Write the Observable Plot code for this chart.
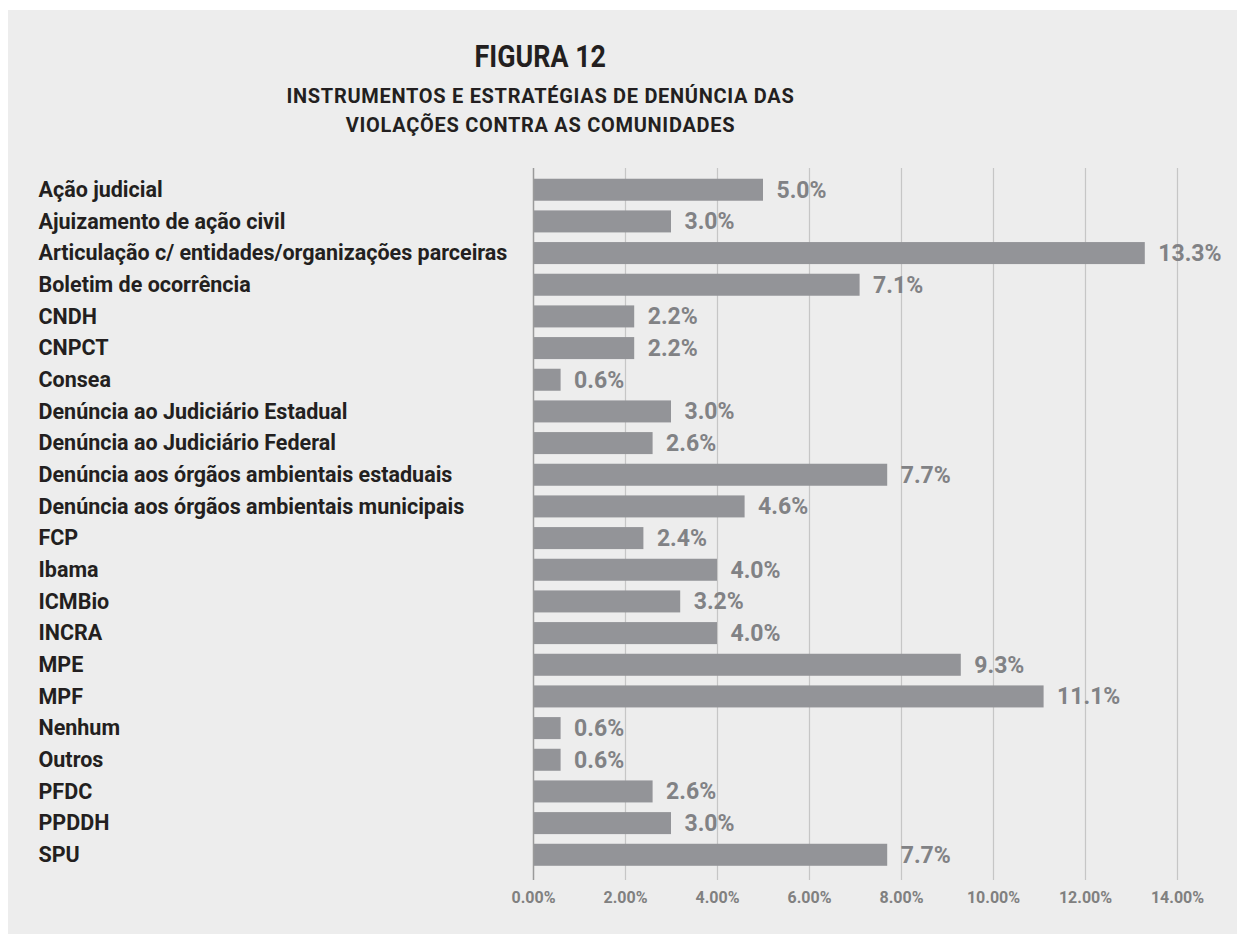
<!DOCTYPE html>
<html>
<head>
<meta charset="utf-8">
<script src="https://cdn.jsdelivr.net/npm/d3@7"></script>
<script src="https://cdn.jsdelivr.net/npm/@observablehq/plot@0.6"></script>
<style>
  html, body { margin: 0; padding: 0; background: #ffffff; }
  #panel {
    position: absolute; left: 8px; top: 10px; width: 1229px; height: 924px;
    background: #ededed; overflow: hidden;
  }
  #title {
    position: absolute; left: 0; width: 1065px; top: 28px; text-align: center;
    font-family: Roboto, "Noto Sans", sans-serif; color: #231f20;
  }
  #title .fig {
    display: inline-block; font-size: 32px; font-weight: 700; line-height: 36px;
    transform: scaleX(0.84); transform-origin: center;
  }
  #title .sub {
    margin-top: 8px;
    font-size: 20px; font-weight: 700; letter-spacing: 0.7px; line-height: 29px;
  }
  #chart { position: absolute; left: 0; top: 140px; }
</style>
</head>
<body>
<div id="panel">
  <div id="title">
    <div class="fig">FIGURA 12</div>
    <div class="sub">INSTRUMENTOS E ESTRATÉGIAS DE DENÚNCIA DAS<br>VIOLAÇÕES CONTRA AS COMUNIDADES</div>
  </div>
  <div id="chart"></div>
</div>
<script>
const categories = [
  "Ação judicial",
  "Ajuizamento de ação civil",
  "Articulação c/ entidades/organizações parceiras",
  "Boletim de ocorrência",
  "CNDH",
  "CNPCT",
  "Consea",
  "Denúncia ao Judiciário Estadual",
  "Denúncia ao Judiciário Federal",
  "Denúncia aos órgãos ambientais estaduais",
  "Denúncia aos órgãos ambientais municipais",
  "FCP",
  "Ibama",
  "ICMBio",
  "INCRA",
  "MPE",
  "MPF",
  "Nenhum",
  "Outros",
  "PFDC",
  "PPDDH",
  "SPU"
];
const values = [5.0, 3.0, 13.3, 7.1, 2.2, 2.2, 0.6, 3.0, 2.6, 7.7, 4.6, 2.4, 4.0, 3.2, 4.0, 9.3, 11.1, 0.6, 0.6, 2.6, 3.0, 7.7];
const xTicks = [0, 2, 4, 6, 8, 10, 12, 14];

const data = categories.map((c, i) => ({category: c, value: values[i]}));

const W = 1229, H = 784;
const mLeft = 525, mTop = 18, mBottom = 54, mRight = 60;

const chart = Plot.plot({
  width: W,
  height: H,
  marginLeft: mLeft,
  marginRight: mRight,
  marginTop: mTop,
  marginBottom: mBottom,
  style: {background: "transparent", fontFamily: "Roboto, sans-serif"},
  x: {domain: [0, 14], ticks: xTicks},
  y: {domain: categories, paddingInner: 0.305, paddingOuter: 0.394, align: 0.43, round: false},
  marks: [
    Plot.ruleX(xTicks.filter(d => d > 0), {stroke: "#c6c6c6", strokeWidth: 1.2}),
    Plot.barX(data, {x: "value", y: "category", fill: "#939498"}),
    Plot.ruleX([0], {stroke: "#9a9a9a", strokeWidth: 1.5}),
    Plot.text(data, {
      x: "value", y: "category", text: d => d.value.toFixed(1) + "%",
      textAnchor: "start", dx: 13, fill: "#818285", fontSize: 23, fontWeight: 700
    }),
    Plot.text(data, {
      y: "category", text: "category", frameAnchor: "left",
      textAnchor: "start", dx: -(mLeft - 30), fill: "#231f20",
      fontSize: 21.5, fontWeight: 700, letterSpacing: "0.58px"
    }),
    Plot.axisX({
      ticks: xTicks, tickSize: 0, tickPadding: 11,
      tickFormat: d => d.toFixed(2) + "%",
      fontSize: 16, fontWeight: 700, fill: "#808080", label: null
    }),
    Plot.axisY({ticks: [], label: null})
  ]
});
document.getElementById("chart").appendChild(chart);
</script>
</body>
</html>
